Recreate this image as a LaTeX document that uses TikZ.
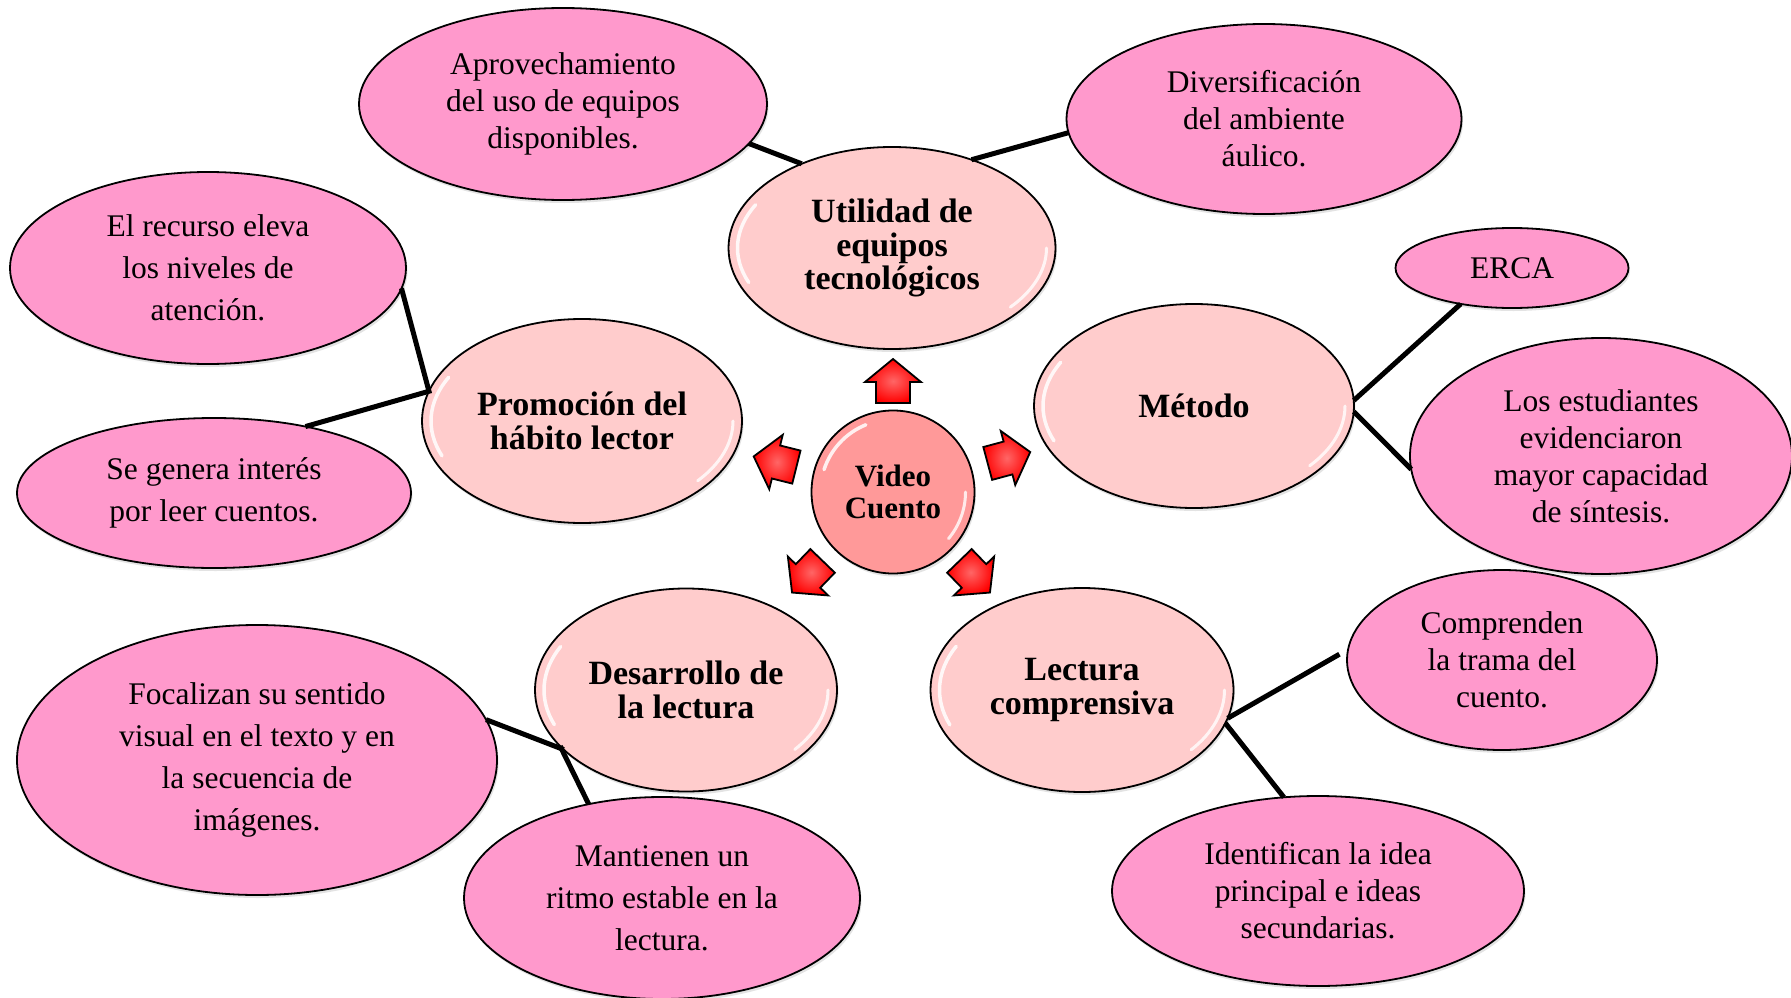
\documentclass[tikz,border=0pt]{standalone}
\usepackage{fontspec}
\setmainfont{Liberation Serif}
\usetikzlibrary{shapes.geometric,shadows,calc}
\definecolor{outerpink}{HTML}{FF99CC}
\definecolor{innerpink}{HTML}{FFCCCC}
\definecolor{centerpink}{HTML}{FF9999}
\tikzset{
  basebox/.style={draw=black, inner sep=0pt, outer sep=0pt, align=center,
    drop shadow={opacity=0.22, shadow xshift=1.5pt, shadow yshift=-3pt}},
  outerbox/.style={basebox, ellipse, fill=outerpink, line width=1.8pt,
    font=\fontsize{31.5}{42}\selectfont},
  tightlines/.style={font=\fontsize{31.5}{37}\selectfont},
  glossy/.style={path picture={
    \draw[white, line width=3.5pt, opacity=0.85, line cap=round]
      let \p1=($(path picture bounding box.north east)-(path picture bounding box.center)$) in
      ($(path picture bounding box.center)+({(\x1-9pt)*cos(#1)},{(\y1-9pt)*sin(#1)})$)
      arc[start angle=#1, delta angle=50, x radius=\x1-9pt, y radius=\y1-9pt];
    \draw[white, line width=3pt, opacity=0.8, line cap=round]
      let \p1=($(path picture bounding box.north east)-(path picture bounding box.center)$) in
      ($(path picture bounding box.center)+({(\x1-9pt)*cos(-40)},{(\y1-9pt)*sin(-40)})$)
      arc[start angle=-40, delta angle=40, x radius=\x1-9pt, y radius=\y1-9pt];
  }},
  innerbox/.style={basebox, ellipse, fill=innerpink, line width=1.8pt,
    font=\fontsize{34}{33.5}\selectfont\bfseries, glossy=152},
  centerbox/.style={basebox, circle, fill=centerpink, line width=1.8pt,
    font=\fontsize{31}{32}\selectfont\bfseries, glossy=112},
  conn/.style={line width=5pt, black},
  arrowshape/.style={draw=black, line width=1.8pt, line join=miter,
    inner color=red!60!white, outer color=red}
}
\newcommand\redarrow[2]{%
  \draw[arrowshape, shift={#1}, rotate=#2]
    (-21,-17) -- (0,-17) -- (0,-28) -- (23,0) -- (0,28) -- (0,17) -- (-21,17) -- cycle;}
\begin{document}
\begin{tikzpicture}[x=1pt,y=-1pt]
\fill[white] (0,0) rectangle (1791,998);
\useasboundingbox (0,0) rectangle (1791,998);

% outer ellipses
\node[outerbox, tightlines, minimum width=408, minimum height=192] (aprov) at (563,104)
  {Aprovechamiento\\del uso de equipos\\disponibles.};
\node[outerbox, tightlines, minimum width=395, minimum height=190] (divers) at (1264,119)
  {Diversificación\\del ambiente\\áulico.};
\node[outerbox, minimum width=233, minimum height=80] (erca) at (1512,268) {ERCA};
\node[outerbox, tightlines, minimum width=382, minimum height=236] (estud) at (1601,456)
  {Los estudiantes\\evidenciaron\\mayor capacidad\\de síntesis.};
\node[outerbox, minimum width=396, minimum height=192] (recur) at (208,268)
  {El recurso eleva\\los niveles de\\atención.};
\node[outerbox, minimum width=394, minimum height=150] (segen) at (214,493)
  {Se genera interés\\por leer cuentos.};
\node[outerbox, minimum width=480, minimum height=270] (focal) at (257,760)
  {Focalizan su sentido\\visual en el texto y en\\la secuencia de\\imágenes.};
\node[outerbox, minimum width=396, minimum height=202] (mant) at (662,898)
  {Mantienen un\\ritmo estable en la\\lectura.};
\node[outerbox, tightlines, minimum width=412, minimum height=190] (ident) at (1318,891)
  {Identifican la idea\\principal e ideas\\secundarias.};
\node[outerbox, tightlines, minimum width=310, minimum height=180] (compr) at (1502,660)
  {Comprenden\\la trama del\\cuento.};

% inner ellipses
\node[innerbox, minimum width=327, minimum height=202] (util) at (892,248)
  {Utilidad de\\equipos\\tecnológicos};
\node[innerbox, minimum width=320, minimum height=204] (metodo) at (1194,406) {Método};
\node[innerbox, minimum width=320, minimum height=204] (prom) at (582,421)
  {Promoción del\\hábito lector};
\node[innerbox, minimum width=302, minimum height=203] (desar) at (686,690)
  {Desarrollo de\\la lectura};
\node[innerbox, minimum width=303, minimum height=204] (lect) at (1082,690)
  {Lectura\\comprensiva};
\node[centerbox, minimum size=163] (video) at (893,492) {Video\\Cuento};

% arrows
\redarrow{(893,382)}{90}
\redarrow{(1008,458)}{15}
\redarrow{(776,462)}{166}
\redarrow{(974,576)}{-46}
\redarrow{(808,576)}{-134}

% connectors
\draw[conn] (aprov.-12) -- (util.137);
\draw[conn] (divers.184) -- (util.48);
\draw[conn] (metodo.2) -- (erca.215);
\draw[conn] (metodo.-2) -- (estud.184);
\draw[conn] (recur.-6) -- (prom.169) -- (segen.36);
\draw[conn] (focal.10) -- (desar.206);
\draw[conn] (desar.204) -- (mant.128);
\draw[conn, shorten >=10pt] (lect.-11) -- (compr.176);
\draw[conn] (lect.-13) -- (ident.110);
\end{tikzpicture}
\end{document}
